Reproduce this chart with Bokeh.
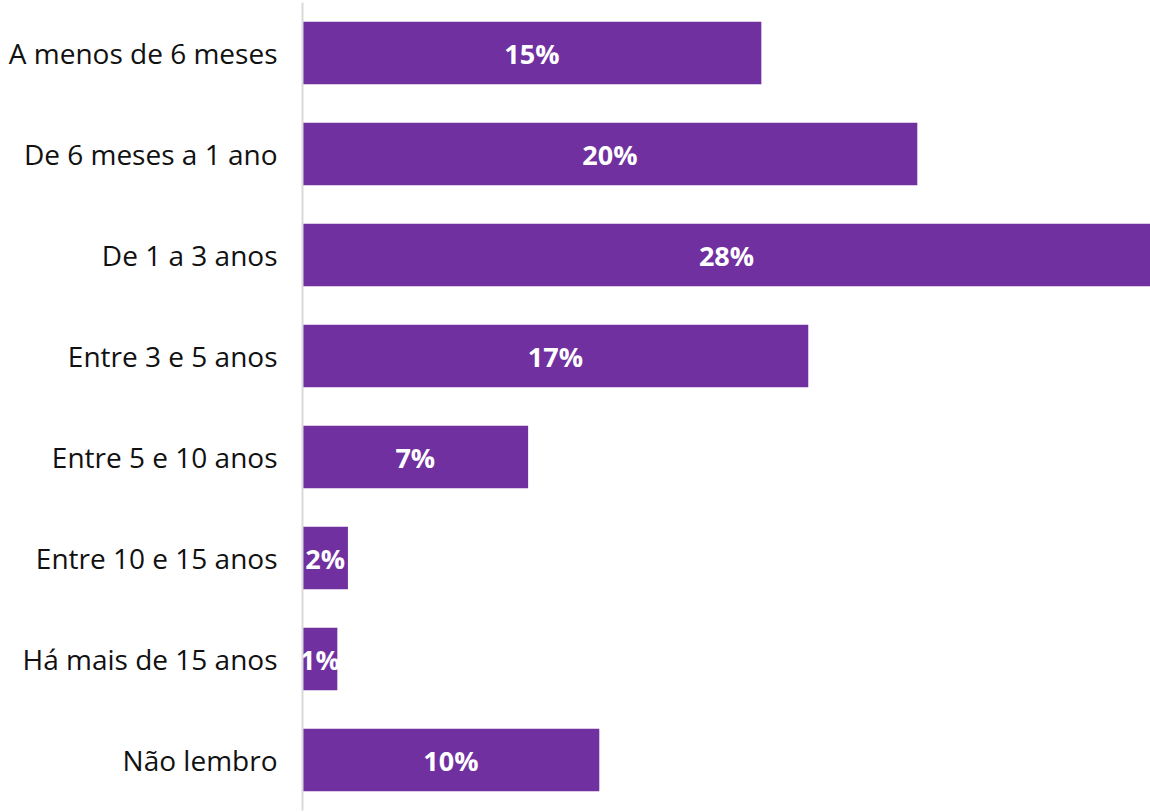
from bokeh.plotting import figure
from bokeh.models import ColumnDataSource, Range1d, FactorRange
from bokeh.core.properties import value
from bokeh.embed import file_html
from bokeh.resources import INLINE

categories = [
    "A menos de 6 meses",
    "De 6 meses a 1 ano",
    "De 1 a 3 anos",
    "Entre 3 e 5 anos",
    "Entre 5 e 10 anos",
    "Entre 10 e 15 anos",
    "Há mais de 15 anos",
    "Não lembro",
]
values = [15.15, 20.3, 28.0, 16.7, 7.45, 1.5, 1.15, 9.8]
labels = ["15%", "20%", "28%", "17%", "7%", "2%", "1%", "10%"]

src = ColumnDataSource(dict(
    cat=categories,
    val=values,
    mid=[v / 2 for v in values],
    lab=labels,
))

p = figure(
    width=1150, height=812,
    y_range=FactorRange(*list(reversed(categories))),
    x_range=Range1d(0, max(values)),
    output_backend="svg", toolbar_location=None,
    min_border_left=302, min_border_right=0,
    min_border_top=2, min_border_bottom=2,
)
p.outline_line_color = None
p.xgrid.visible = False
p.ygrid.visible = False
p.xaxis.visible = False

p.hbar(y="cat", right="val", left=0, height=0.62, source=src,
       fill_color="#7030A0", line_color=None)

p.text(x="mid", y="cat", text="lab", source=src,
       text_align="center", text_baseline="middle",
       text_color="white", text_font=value("Open Sans"),
       text_font_style="bold", text_font_size="27px")

ax = p.yaxis[0]
ax.axis_line_color = "#d9d9d9"
ax.axis_line_width = 2
ax.major_tick_line_color = None
ax.minor_tick_line_color = None
ax.major_tick_out = 0
ax.major_tick_in = 0
ax.major_label_standoff = 25
ax.major_label_text_font = "Open Sans"
ax.major_label_text_font_size = "28px"
ax.major_label_text_color = "#111111"

open("out.html", "w").write(file_html(p, INLINE))
